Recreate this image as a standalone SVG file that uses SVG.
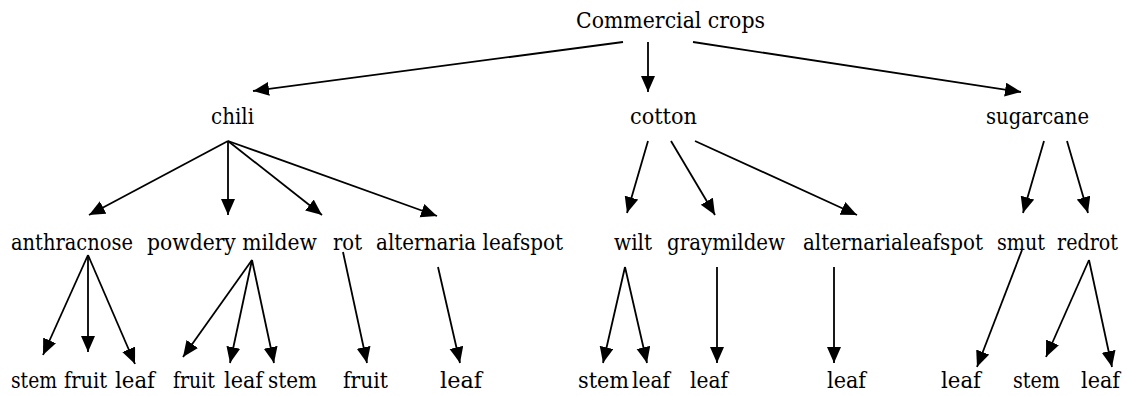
<svg xmlns="http://www.w3.org/2000/svg" width="1126" height="396" viewBox="0 0 1126 396">
<style>
text{font-family:"DejaVu Serif","Liberation Serif",serif;font-size:22px;fill:#000}
.c line{stroke:#000;stroke-width:1.8;marker-end:url(#ah)}
</style>
<defs>
<marker id="ah" markerUnits="userSpaceOnUse" markerWidth="17" markerHeight="15" refX="16" refY="7" orient="auto">
<path d="M0,0 L16,7 L0,14 z" fill="#000"/>
</marker>
</defs>
<rect width="1126" height="396" fill="#fff"/>
<g class="c" id="connectors">
<line x1="623" y1="42" x2="253" y2="91"/>
<line x1="648" y1="42" x2="648" y2="92"/>
<line x1="693" y1="42" x2="1021" y2="92"/>
<line x1="228" y1="141" x2="89" y2="215"/>
<line x1="228" y1="141" x2="228" y2="215"/>
<line x1="228" y1="141" x2="322" y2="215"/>
<line x1="228" y1="141" x2="437" y2="216"/>
<line x1="648" y1="141" x2="627" y2="213"/>
<line x1="671" y1="141" x2="715" y2="215"/>
<line x1="695" y1="141" x2="857" y2="215"/>
<line x1="1044" y1="141" x2="1023" y2="213"/>
<line x1="1067" y1="141" x2="1088" y2="213"/>
<line x1="88" y1="255" x2="43" y2="355"/>
<line x1="88" y1="255" x2="88" y2="352"/>
<line x1="88" y1="255" x2="135" y2="364"/>
<line x1="252" y1="260" x2="183" y2="357"/>
<line x1="252" y1="260" x2="230" y2="363"/>
<line x1="252" y1="260" x2="274" y2="363"/>
<line x1="343" y1="252" x2="367" y2="363"/>
<line x1="438" y1="267" x2="460" y2="363"/>
<line x1="625" y1="267" x2="603" y2="363"/>
<line x1="625" y1="267" x2="647" y2="363"/>
<line x1="717" y1="267" x2="717" y2="363"/>
<line x1="834" y1="267" x2="834" y2="363"/>
<line x1="1022" y1="250" x2="977" y2="367"/>
<line x1="1089" y1="260" x2="1046" y2="357"/>
<line x1="1089" y1="260" x2="1112" y2="367"/>
</g>
<g id="root"><text x="576" y="28" textLength="189" lengthAdjust="spacingAndGlyphs">Commercial crops</text></g>
<g id="chili"><text x="211" y="124" textLength="43" lengthAdjust="spacingAndGlyphs">chili</text></g>
<g id="cotton"><text x="630" y="124" textLength="67" lengthAdjust="spacingAndGlyphs">cotton</text></g>
<g id="sugarcane"><text x="986" y="124" textLength="103" lengthAdjust="spacingAndGlyphs">sugarcane</text></g>
<g id="anthracnose"><text x="11" y="250" textLength="122" lengthAdjust="spacingAndGlyphs">anthracnose</text></g>
<g id="powdery-mildew"><text x="147" y="250" textLength="170" lengthAdjust="spacingAndGlyphs">powdery mildew</text></g>
<g id="rot"><text x="333" y="250" textLength="29" lengthAdjust="spacingAndGlyphs">rot</text></g>
<g id="alternaria-leafspot-chili"><text x="376" y="250" textLength="187" lengthAdjust="spacingAndGlyphs">alternaria leafspot</text></g>
<g id="wilt"><text x="614" y="250" textLength="38" lengthAdjust="spacingAndGlyphs">wilt</text></g>
<g id="graymildew"><text x="667" y="250" textLength="118" lengthAdjust="spacingAndGlyphs">graymildew</text></g>
<g id="alternarialeafspot-cotton"><text x="803" y="250" textLength="180" lengthAdjust="spacingAndGlyphs">alternarialeafspot</text></g>
<g id="smut"><text x="997" y="250" textLength="48" lengthAdjust="spacingAndGlyphs">smut</text></g>
<g id="redrot"><text x="1057" y="250" textLength="61" lengthAdjust="spacingAndGlyphs">redrot</text></g>
<g id="a-stem"><text x="11" y="388" textLength="46" lengthAdjust="spacingAndGlyphs">stem</text></g>
<g id="a-fruit"><text x="64" y="388" textLength="43" lengthAdjust="spacingAndGlyphs">fruit</text></g>
<g id="a-leaf"><text x="115" y="388" textLength="40" lengthAdjust="spacingAndGlyphs">leaf</text></g>
<g id="p-fruit"><text x="173" y="388" textLength="42" lengthAdjust="spacingAndGlyphs">fruit</text></g>
<g id="p-leaf"><text x="224" y="388" textLength="39" lengthAdjust="spacingAndGlyphs">leaf</text></g>
<g id="p-stem"><text x="268" y="388" textLength="49" lengthAdjust="spacingAndGlyphs">stem</text></g>
<g id="r-fruit"><text x="343" y="388" textLength="45" lengthAdjust="spacingAndGlyphs">fruit</text></g>
<g id="al-leaf"><text x="440" y="388" textLength="42" lengthAdjust="spacingAndGlyphs">leaf</text></g>
<g id="w-stem"><text x="578" y="388" textLength="51" lengthAdjust="spacingAndGlyphs">stem</text></g>
<g id="w-leaf"><text x="632" y="388" textLength="38" lengthAdjust="spacingAndGlyphs">leaf</text></g>
<g id="g-leaf"><text x="690" y="388" textLength="38" lengthAdjust="spacingAndGlyphs">leaf</text></g>
<g id="ac-leaf"><text x="827" y="388" textLength="39" lengthAdjust="spacingAndGlyphs">leaf</text></g>
<g id="s-leaf"><text x="941" y="388" textLength="40" lengthAdjust="spacingAndGlyphs">leaf</text></g>
<g id="rr-stem"><text x="1013" y="388" textLength="47" lengthAdjust="spacingAndGlyphs">stem</text></g>
<g id="rr-leaf"><text x="1081" y="388" textLength="39" lengthAdjust="spacingAndGlyphs">leaf</text></g>
</svg>
